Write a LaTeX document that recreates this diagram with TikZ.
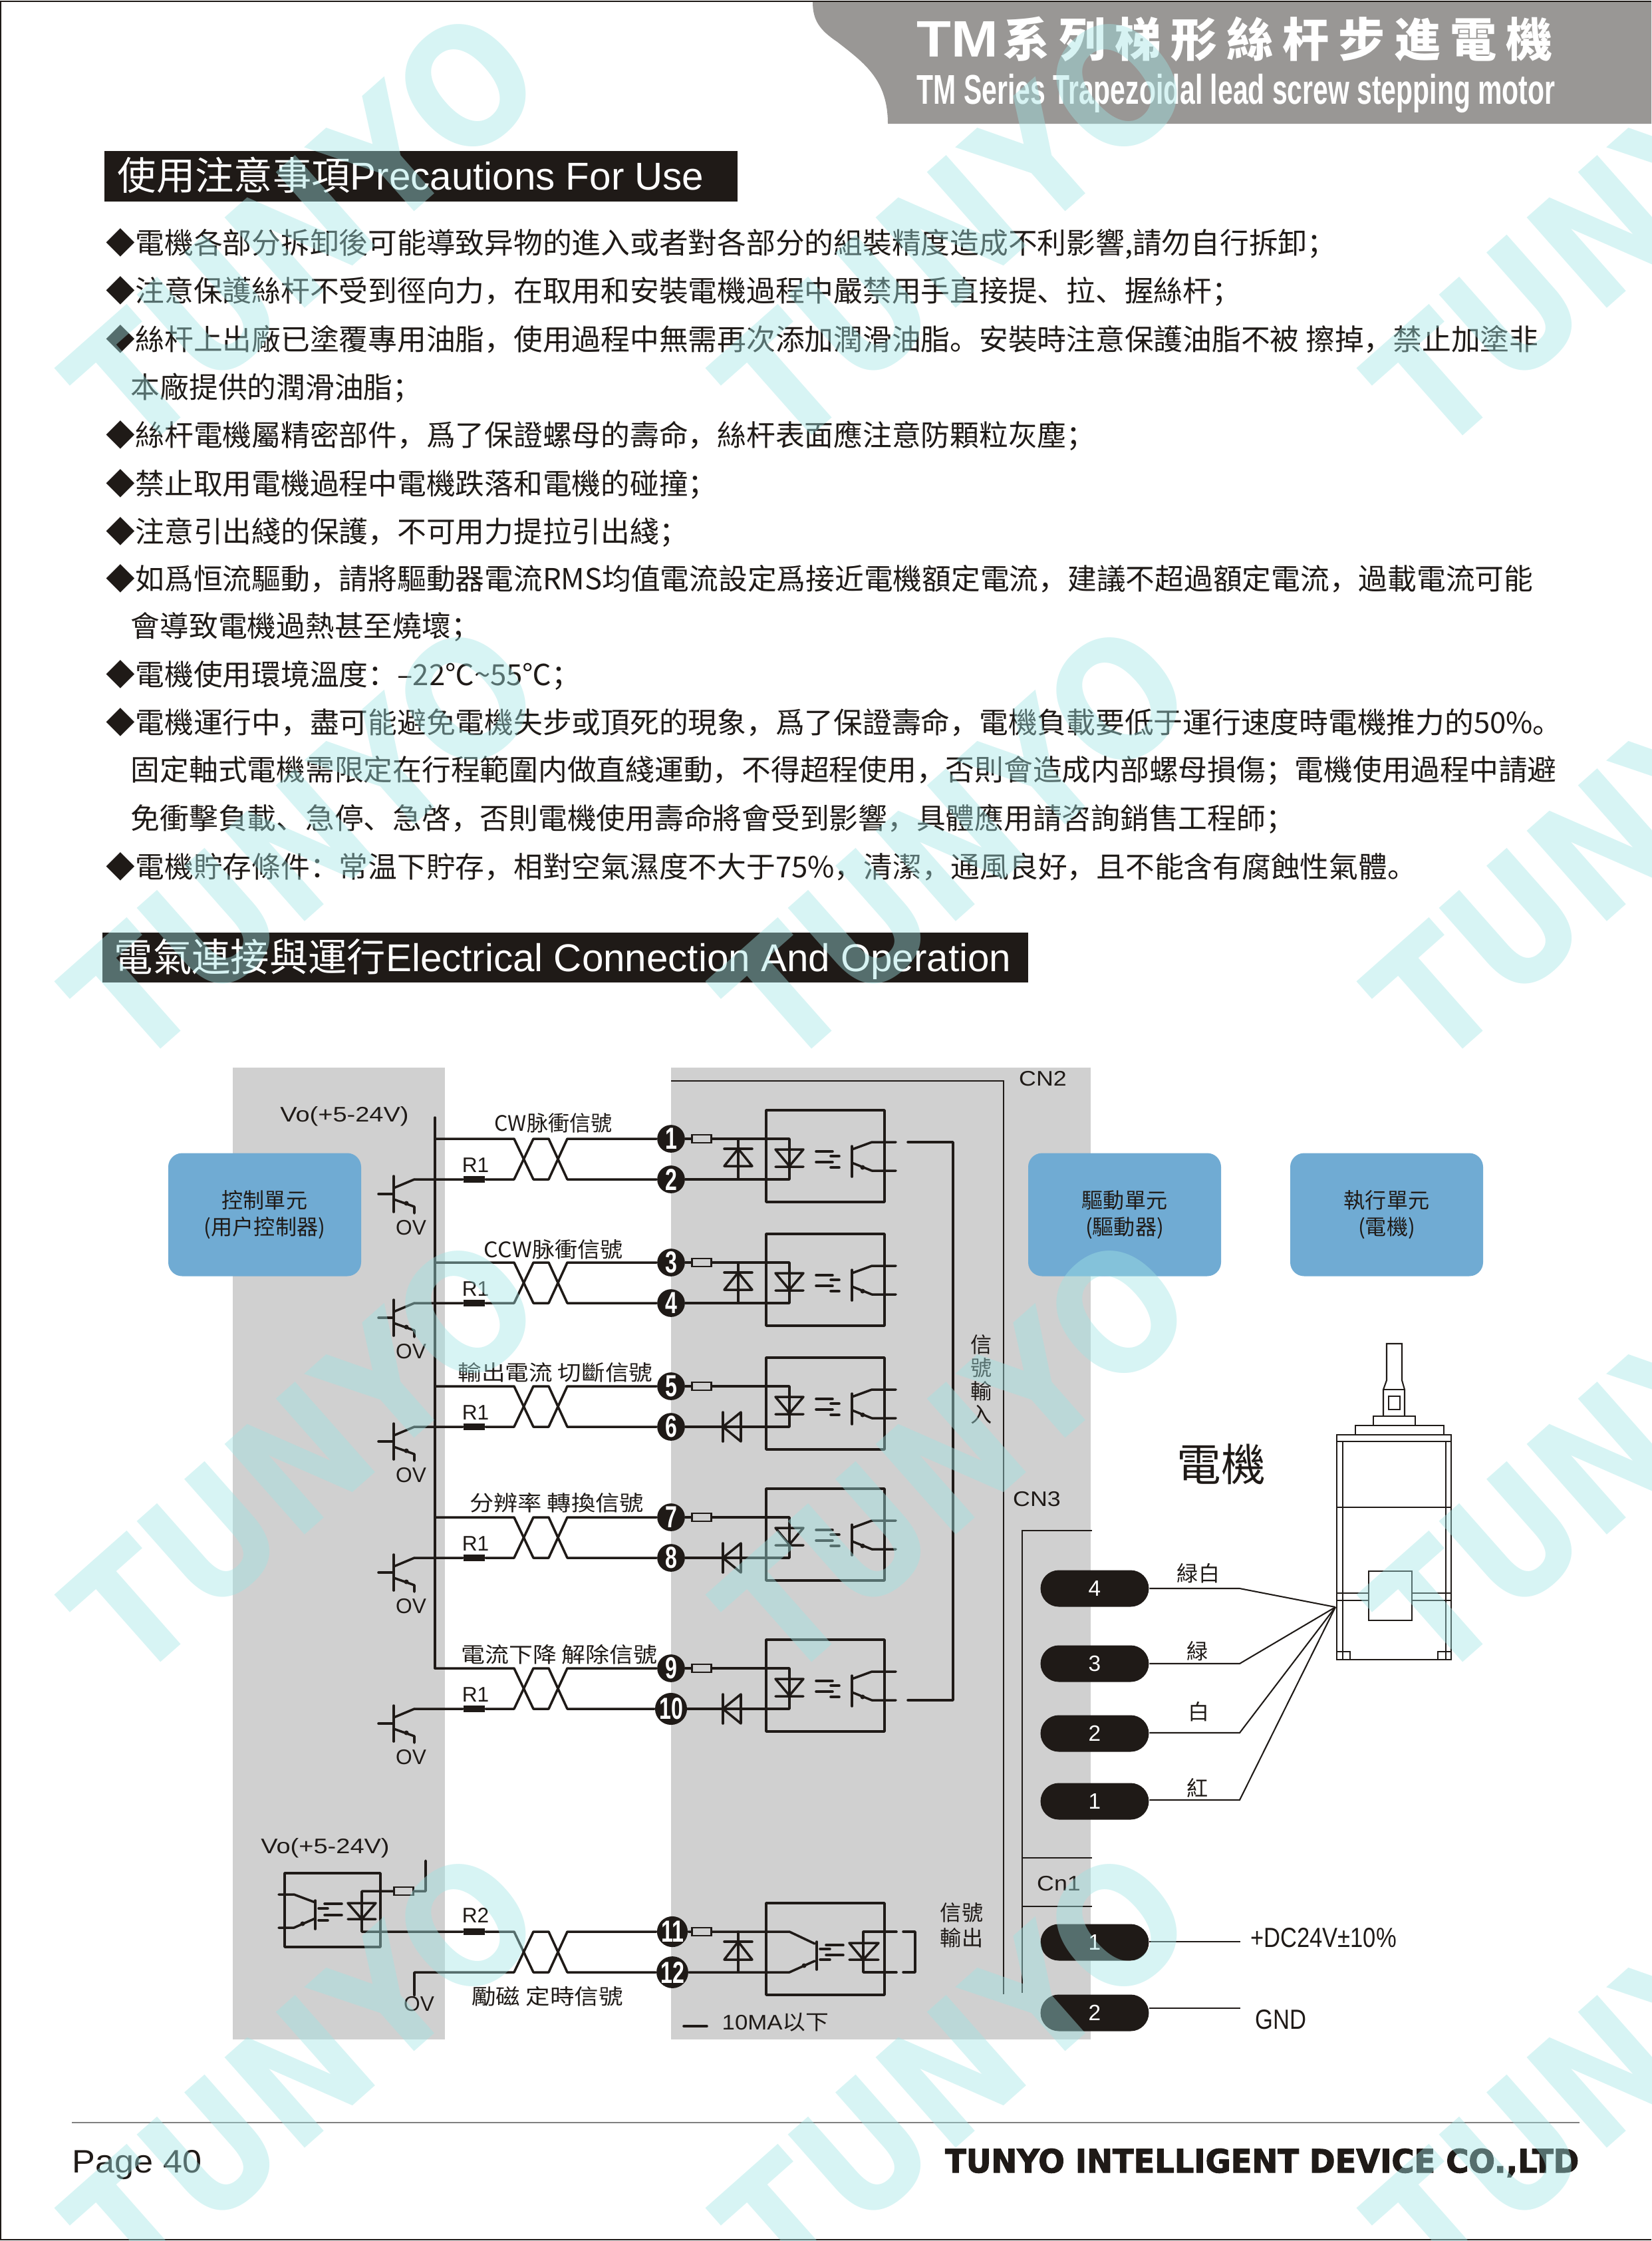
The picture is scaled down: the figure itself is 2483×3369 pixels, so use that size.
\documentclass[tikz,border=0pt]{standalone}
\usepackage{fontspec}
\setmainfont{Liberation Sans}
\newfontfamily\cjk{Noto Sans CJK SC}
\newfontfamily\cjkwide[LetterSpace=20]{Noto Sans CJK SC}
\newfontfamily\heavy[BoldFeatures={FakeBold=2.5}]{DejaVu Sans}
\newfontfamily\markfont{DejaVu Sans}
\usetikzlibrary{shapes.misc}
\definecolor{panelgray}{HTML}{D0D0D0}
\definecolor{headgray}{HTML}{999795}
\definecolor{boxblue}{HTML}{70ABD3}
\definecolor{inkblack}{HTML}{1F1A17}
\definecolor{markcyan}{RGB}{160,228,228}
\newcommand{\zhcomma}{^^^^ff0c}
\newcommand{\zhsemi}{^^^^ff1b}
\newcommand{\zhcolon}{^^^^ff1a}
\tikzset{
    wire/.style={draw=inkblack,line width=.85pt,line cap=round,line join=round},
    thinwire/.style={draw=inkblack,line width=.5pt},
    barlabel/.style={anchor=base west,inner sep=0pt,text=white},
    bodyline/.style={anchor=base west,inner sep=0pt,text=inkblack,font=\cjk\fontsize{10.5}{12}\selectfont},
    sigtext/.style={inner sep=0pt,text=inkblack,font=\cjk\fontsize{7.7}{9.6}\selectfont,align=center},
    smalltext/.style={inner sep=0pt,text=inkblack,font=\fontsize{7.6}{9}\selectfont},
    unitbox/.style={fill=boxblue,rounded corners=5pt,minimum width=69.6pt,minimum height=44.4pt,inner sep=0pt,
        text=inkblack,font=\cjk\fontsize{7.7}{9.6}\selectfont,align=center},
    pinmark/.style={circle,fill=inkblack,minimum size=10pt,inner sep=0pt,text=white,font=\bfseries\fontsize{11}{11}\selectfont},
    pillmark/.style={rounded rectangle,fill=inkblack,minimum width=39.1pt,minimum height=13.2pt,inner sep=0pt,
        text=white,font=\fontsize{8}{8}\selectfont},
    fusemark/.style={rectangle,draw=inkblack,fill=panelgray,line width=.6pt,minimum width=7pt,minimum height=2.8pt,inner sep=0pt},
    resmark/.style={rectangle,fill=inkblack,minimum width=7.7pt,minimum height=2.4pt,inner sep=0pt},
    wmark/.style={inner sep=0pt,text=markcyan,text opacity=.42,font=\markfont\bfseries\fontsize{52}{52}\selectfont}
}
\newcommand{\pinnum}[1]{\scalebox{.7}[1]{#1}}
% transistor on the user side, relative to the bottom wire of the pair
\newcommand{\usertrans}{
    \draw[wire] (569,83) -- (592,83) (592,56) -- (592,110);
    \draw[wire] (592,74) -- (623,61);
    \draw[wire] (592,91) -- (623,102) -- (623,112);
    \fill[inkblack] (611,97) circle (3.5);
}
% coupler box with led and transistor, relative to the top wire
\newcommand{\couplerbox}{
    \draw[wire] (1152,-43) rectangle (1330,95);
    \draw[wire] (1166,16) -- (1208,16) -- (1187,41) -- cycle (1166,42) -- (1208,42);
    \draw[wire] (1227,19) -- (1252,19) (1249,26) -- (1262,26) (1227,35) -- (1252,35) (1249,43) -- (1262,43);
    \draw[wire] (1281,11) -- (1281,57);
    \draw[wire] (1281,16) -- (1311,5) -- (1347,5);
    \draw[wire] (1281,36) -- (1311,48) -- (1347,48);
    \fill[inkblack] (1297,43) circle (3.5);
}
\begin{document}
\begin{tikzpicture}[x=.24pt,y=-.24pt]
    \useasboundingbox (0,0) rectangle (2483,3369);
    \draw[inkblack,line width=.5pt] (2483,2) -- (1,2) -- (1,3367) -- (2483,3367);

    % header
    \fill[headgray] (1222,3) .. controls (1222,30) and (1232,45) .. (1259,63)
        .. controls (1300,95) and (1335,120) .. (1335,186) -- (2483,186) -- (2483,3) -- cycle;
    \node[barlabel,font=\bfseries\fontsize{18.5}{20}\selectfont,xscale=1.1] (titletm) at (1378,85) {TM};
    \node[barlabel,font=\cjkwide\bfseries\fontsize{16.8}{20}\selectfont] (titlecjk) at (1508,85) {系列梯形絲杆步進電機};
    \node[barlabel,font=\bfseries\fontsize{15}{17}\selectfont,xscale=.655] (titleen) at (1378,156) {TM Series Trapezoidal lead screw stepping motor};

    % first section
    \fill[inkblack] (157,227) rectangle (1109,303);
    \node[barlabel,font=\fontsize{14}{16}\selectfont] (headuse) at (176,285) {{\cjk 使用注意事項}Precautions For Use};
    \node[bodyline] (use1) at (159,381) {◆電機各部分拆卸後可能導致异物的進入或者對各部分的組裝精度造成不利影響,請勿自行拆卸\zhsemi};
    \node[bodyline] (use2) at (159,453) {◆注意保護絲杆不受到徑向力\zhcomma 在取用和安裝電機過程中嚴禁用手直接提、拉、握絲杆\zhsemi};
    \node[bodyline] (use3) at (159,526) {◆絲杆上出廠已塗覆專用油脂\zhcomma 使用過程中無需再次添加潤滑油脂。安裝時注意保護油脂不被 擦掉\zhcomma 禁止加塗非};
    \node[bodyline] (use3b) at (196,598) {本廠提供的潤滑油脂\zhsemi};
    \node[bodyline] (use4) at (159,670) {◆絲杆電機屬精密部件\zhcomma 爲了保證螺母的壽命\zhcomma 絲杆表面應注意防顆粒灰塵\zhsemi};
    \node[bodyline] (use5) at (159,743) {◆禁止取用電機過程中電機跌落和電機的碰撞\zhsemi};
    \node[bodyline] (use6) at (159,815) {◆注意引出綫的保護\zhcomma 不可用力提拉引出綫\zhsemi};
    \node[bodyline] (use7) at (159,886) {◆如爲恒流驅動\zhcomma 請將驅動器電流RMS均值電流設定爲接近電機額定電流\zhcomma 建議不超過額定電流\zhcomma 過載電流可能};
    \node[bodyline] (use7b) at (196,957) {會導致電機過熱甚至燒壞\zhsemi};
    \node[bodyline] (use8) at (159,1030) {◆電機使用環境溫度\zhcolon –22℃\textasciitilde 55℃\zhsemi};
    \node[bodyline] (use9) at (159,1102) {◆電機運行中\zhcomma 盡可能避免電機失步或頂死的現象\zhcomma 爲了保證壽命\zhcomma 電機負載要低于運行速度時電機推力的50\%。};
    \node[bodyline] (use9b) at (196,1173) {固定軸式電機需限定在行程範圍内做直綫運動\zhcomma 不得超程使用\zhcomma 否則會造成内部螺母損傷\zhsemi 電機使用過程中請避};
    \node[bodyline] (use9c) at (196,1246) {免衝擊負載、急停、急啓\zhcomma 否則電機使用壽命將會受到影響\zhcomma 具體應用請咨詢銷售工程師\zhsemi};
    \node[bodyline] (use10) at (159,1319) {◆電機貯存條件\zhcolon 常温下貯存\zhcomma 相對空氣濕度不大于75\%\zhcomma 清潔\zhcomma 通風良好\zhcomma 且不能含有腐蝕性氣體。};

    % second section
    \fill[inkblack] (154,1402) rectangle (1546,1477);
    \node[barlabel,font=\fontsize{14}{16}\selectfont] (headconn) at (171,1460) {{\cjk 電氣連接與運行}Electrical Connection And Operation};

    % panels
    \fill[panelgray] (350,1605) rectangle (669,3066);
    \fill[panelgray] (1009,1605) rectangle (1640,3066);
    \node[unitbox] (ctrl) at (398,1826) {控制單元\\(用户控制器)};
    \node[unitbox] (drive) at (1691,1826) {驅動單元\\(驅動器)};
    \node[unitbox] (exec) at (2085,1826) {執行單元\\(電機)};

    % connector frames
    \draw[thinwire,line width=.7pt] (1009,1625) -- (1509,1625) -- (1509,2998);
    \draw[thinwire,line width=.7pt] (1642,2301) -- (1537,2301) -- (1537,2996);
    \draw[thinwire] (1537,2793) -- (1642,2793) (1537,2866) -- (1642,2866);
    \node[smalltext,xscale=1.13] (cn2) at (1568,1622) {CN2};
    \node[smalltext,xscale=1.13] (cn3) at (1559,2254) {CN3};
    \node[smalltext,xscale=1.13] (cn1) at (1592,2832) {Cn1};

    % input channels
    \draw[wire] (654,1680) -- (654,2508);
    \node[smalltext,xscale=1.2] (vo1) at (518,1678) {Vo(+5-24V)};
    \foreach \t/\a/\b in {1712/1/2,1898/3/4,2084/5/6,2281/7/8,2508/9/10}{
        \begin{scope}[shift={(0,\t)}]
            \node[pinmark] (p\a) at (1009,0) {\pinnum{\a}};
            \node[pinmark] (p\b) at (1009,61) {\pinnum{\b}};
            \node[fusemark] (f\a) at (1055,0) {};
            \node[resmark] (r\a) at (713,61) {};
            \node[smalltext] (rl\a) at (715,40) {R1};
            \node[smalltext] (ov\a) at (618,134) {OV};
            \usertrans
            \draw[wire] (654,0) -- (773,0) -- (802,61) -- (825,61) -- (853,0) -- (p\a);
            \draw[wire] (623,61) -- (r\a) -- (773,61) -- (802,0) -- (825,0) -- (853,61) -- (p\b);
            \draw[wire] (p\a) -- (f\a) -- (1187,0) -- (1187,61) -- (p\b);
            \couplerbox
        \end{scope}
    }
    \foreach \t in {1712,1898}{
        \begin{scope}[shift={(0,\t)}]
            \draw[wire] (1110,0) -- (1110,61) (1089,15) -- (1131,15);
            \draw[wire] (1089,41) -- (1131,41) -- (1110,15) -- cycle;
        \end{scope}
    }
    \foreach \t in {2084,2281,2508}{
        \begin{scope}[shift={(0,\t)}]
            \draw[wire] (1087,39) -- (1087,83);
            \draw[wire] (1114,39) -- (1114,83) -- (1087,61) -- cycle;
        \end{scope}
    }
    \draw[wire] (1365,1717) -- (1433,1717) -- (1433,2556) -- (1365,2556);
    \foreach \x/\y/\w/\txt [count=\i] in {832/1688/1/CW脉衝信號,832/1878/1.06/CCW脉衝信號,835/2063/1.11/輸出電流 切斷信號,
        837/2259/1.13/分辨率 轉換信號,841/2487/1.12/電流下降 解除信號,823/3001/1.14/勵磁 定時信號}{
        \node[sigtext,xscale=\w] (sig\i) at (\x,\y) {\txt};
    }
    \node[sigtext,font=\cjk\fontsize{7.7}{8.4}\selectfont] (sigin) at (1476,2074) {信\\號\\輸\\入};
    \node[sigtext,font=\cjk\fontsize{7.7}{9.2}\selectfont] (sigout) at (1446,2894) {信號\\輸出};

    % output channel
    \node[smalltext,xscale=1.2] (vo2) at (489,2778) {Vo(+5-24V)};
    \begin{scope}[shift={(0,2904)}]
        \node[pinmark] (p11) at (1011,0) {\pinnum{11}};
        \node[pinmark] (p12) at (1011,61) {\pinnum{12}};
        \node[fusemark] (f11) at (1055,0) {};
        \node[resmark] (r11) at (713,0) {};
        \node[smalltext] (rl11) at (715,-25) {R2};
        \node[fusemark] (f12) at (607,-61) {};
        \node[smalltext] (ov11) at (630,109) {OV};
        \coordinate (gnd) at (623,96);
        \coordinate (vsup) at (640,-107);
        \draw[wire] (428,-88) rectangle (572,23);
        \draw[wire] (vsup) -- (640,-61) -- (f12) -- (544,-61) -- (544,0) -- (r11) -- (773,0) -- (802,61) -- (825,61) -- (853,0) -- (p11);
        \draw[wire] (gnd) -- (623,61) -- (773,61) -- (802,0) -- (825,0) -- (853,61) -- (p12);
        \draw[wire] (523,-43) -- (565,-43) -- (544,-19) -- cycle (523,-19) -- (565,-19);
        \draw[wire] (488,-42) -- (514,-42) (479,-35) -- (493,-35) (488,-25) -- (514,-25) (479,-17) -- (493,-17);
        \draw[wire] (474,-47) -- (474,-4);
        \draw[wire] (419,-56) -- (442,-56) -- (474,-44);
        \draw[wire] (419,-6) -- (442,-6) -- (474,-20);
        \fill[inkblack] (455,-12) circle (3.5);
        \draw[wire] (p11) -- (f11) -- (1187,0) -- (1225,18);
        \draw[wire] (p12) -- (1187,61) -- (1225,44);
        \fill[inkblack] (1209,51) circle (3.5);
        \draw[wire] (1228,15) -- (1228,57);
        \draw[wire] (1242,20) -- (1268,20) (1233,26) -- (1248,26) (1242,35) -- (1268,35) (1233,42) -- (1248,42);
        \draw[wire] (1152,-43) rectangle (1330,95);
        \draw[wire] (1277,17) -- (1321,17) -- (1298,42) -- cycle (1277,42) -- (1321,42);
        \draw[wire] (1348,0) -- (1298,0) -- (1298,61) -- (1348,61);
        \draw[wire] (1358,0) -- (1376,0) -- (1376,61) -- (1358,61);
        \draw[wire] (1110,0) -- (1110,61) (1089,15) -- (1131,15);
        \draw[wire] (1089,42) -- (1131,42) -- (1110,15) -- cycle;
    \end{scope}
    \coordinate (tickl) at (1028,3046);
    \coordinate (tickr) at (1063,3046);
    \draw[wire] (tickl) -- (tickr);
    \node[sigtext,font=\fontsize{7.6}{9}\selectfont,xscale=1.1] (tenma) at (1166,3040) {10MA{\cjk 以下}};

    % motor leads
    \foreach \n/\y/\txt in {4/2388/4,3/2501/3,2/2606/2,1/2708/1}{
        \node[pillmark] (pill\n) at (1646,\y) {\txt};
    }
    \node[pillmark] (pillp) at (1646,2920) {1};
    \node[pillmark] (pilln) at (1646,3026) {2};
    \coordinate (motorin) at (2008,2416);
    \draw[thinwire] (pill4.east |- 0,2388) -- (1864,2388) -- (motorin);
    \draw[thinwire] (pill3.east |- 0,2501) -- (1864,2501) -- (motorin);
    \draw[thinwire] (pill2.east |- 0,2605) -- (1864,2605) -- (motorin);
    \draw[thinwire] (pill1.east |- 0,2706) -- (1864,2706) -- (motorin);
    \draw[thinwire] (pillp.east |- 0,2919) -- (1865,2919);
    \draw[thinwire] (pilln.east |- 0,3019) -- (1865,3019);
    \node[sigtext] (leadgw) at (1802,2365) {緑白};
    \node[sigtext] (leadg) at (1801,2482) {緑};
    \node[sigtext] (leadw) at (1803,2573) {白};
    \node[sigtext] (leadr) at (1801,2688) {紅};
    \node[smalltext,font=\fontsize{10}{12}\selectfont,xscale=.83] (dcin) at (1990,2913) {+DC24V±10\%};
    \node[smalltext,font=\fontsize{10}{12}\selectfont,xscale=.83] (gndin) at (1926,3036) {GND};
    \node[sigtext,font=\cjk\fontsize{16}{18}\selectfont] (motorname) at (1836,2201) {電機};

    % motor
    \draw[thinwire] (2010,2157) rectangle (2182,2495);
    \draw[thinwire] (2010,2167) -- (2182,2167) (2010,2266) -- (2182,2266);
    \draw[thinwire] (2019,2167) -- (2019,2495) (2174,2167) -- (2174,2495);
    \draw[thinwire] (2010,2395) -- (2058,2395) (2010,2406) -- (2058,2406) (2123,2395) -- (2182,2395) (2123,2406) -- (2182,2406);
    \draw[thinwire] (2058,2362) rectangle (2123,2436);
    \draw[thinwire] (2038,2157) -- (2038,2143) -- (2171,2143) -- (2171,2157);
    \draw[thinwire] (2065,2143) -- (2065,2129) -- (2128,2129) -- (2128,2143);
    \draw[thinwire] (2080,2129) -- (2080,2089) -- (2085,2075) -- (2085,2020) -- (2108,2020) -- (2108,2075) -- (2112,2089) -- (2112,2129);
    \draw[thinwire] (2080,2089) -- (2112,2089);
    \draw[thinwire] (2088,2099) rectangle (2105,2119);
    \draw[thinwire] (2010,2483) -- (2030,2483) -- (2030,2495) (2162,2495) -- (2162,2483) -- (2182,2483);

    % footer
    \draw[gray,line width=.5pt] (108,3191) -- (2375,3191);
    \node[barlabel,text=inkblack,font=\fontsize{11.7}{13}\selectfont,xscale=1.07] (pageno) at (108,3266) {Page 40};
    \node[barlabel,text=inkblack,anchor=base east,font=\heavy\bfseries\fontsize{11.6}{13}\selectfont,xscale=.96] (company) at (2375,3266) {TUNYO INTELLIGENT DEVICE CO.,LTD};

    % watermark over everything
    \begin{scope}
        \clip (0,0) rectangle (2483,3369);
        \foreach \mx in {455,1434,2413}{
            \foreach \my in {345,1267,2189,3111}{
                \node[wmark,rotate=41.5,yscale=1.15] (mark\mx\my) at (\mx,\my) {TUNYO};
            }
        }
    \end{scope}
\end{tikzpicture}
\end{document}
